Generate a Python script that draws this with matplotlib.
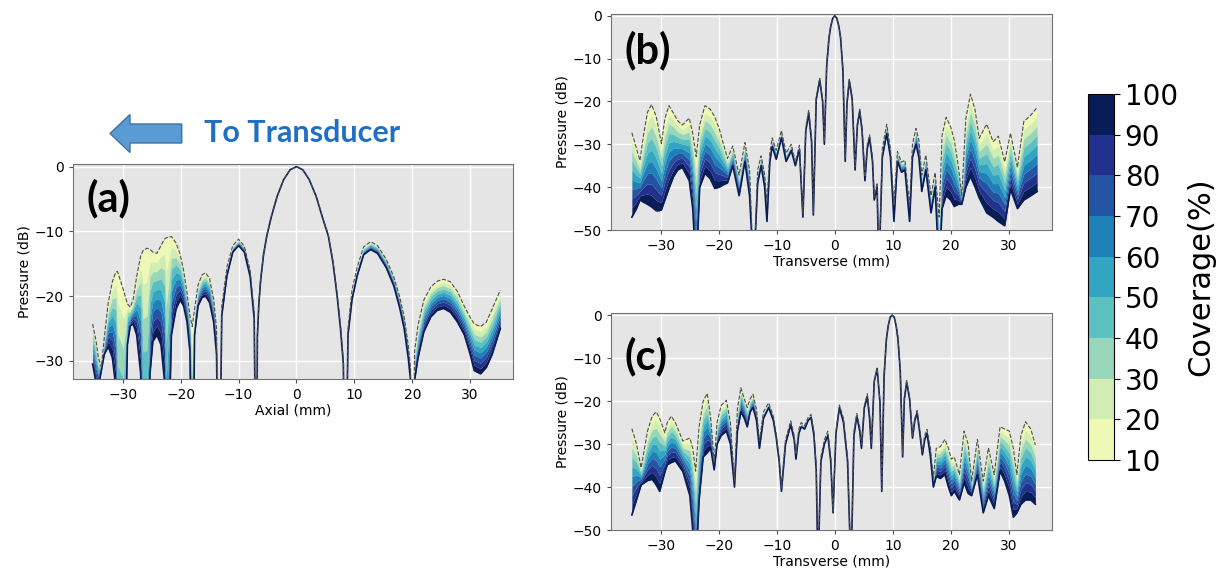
import numpy as np
import matplotlib
matplotlib.use("Agg")
import matplotlib.pyplot as plt
from matplotlib.colors import ListedColormap, BoundaryNorm
from matplotlib.cm import ScalarMappable
from matplotlib.patches import FancyArrow

# coverage levels of the colour scale
coverage_levels = [10, 20, 30, 40, 50, 60, 70, 80, 90, 100]

# (a) axial profile: 10 % envelope (top) and 100 % curve (low), in dB
a_x = [-35.2, -34.6, -34.2, -33.7, -33.2, -32.5, -31.8, -31.2, -30.9, -29.9,
       -29.2, -28.7, -28.2, -27.6, -26.9, -26.5, -25.8, -25.3, -24.8, -24.1,
       -23.4, -22.8, -22.5, -21.6, -20.8, -20.1, -19.5, -18.9, -18.4, -18.0,
       -17.6, -17.0, -16.3, -15.7, -15.0, -14.3, -13.8, -13.4, -12.9, -12.0,
       -11.0, -10.0, -9.0, -8.0, -7.3, -6.9, -6.75, -6.5, -6.2, -5.7,
       -5.1, -4.3, -3.3, -2.2, -1.1, 0.0, 1.1, 2.2, 3.4, 4.5,
       5.5, 6.3, 7.0, 7.6, 8.1, 8.4, 8.9, 9.6, 10.5, 11.6,
       12.8, 14.0, 15.5, 16.8, 17.8, 18.6, 19.3, 19.7, 20.0, 20.4,
       21.0, 22.0, 23.2, 24.3, 25.4, 26.6, 27.8, 29.0, 30.0, 30.7,
       31.8, 32.8, 33.8, 35.2]
a_top = [-24.3, -27.0, -29.5, -31.0, -26.5, -21.0, -17.8, -16.3, -16.2, -19.0,
         -21.2, -21.7, -20.5, -17.0, -13.8, -13.0, -12.6, -12.8, -13.2, -13.4,
         -12.2, -11.2, -11.0, -10.8, -11.8, -13.5, -16.0, -19.5, -23.0, -24.7,
         -22.0, -18.3, -16.7, -16.4, -17.3, -20.5, -25.0, -60.0, -21.5, -15.5,
         -12.2, -11.2, -12.3, -16.0, -22.5, -60.0, -26.0, -21.0, -17.5, -13.5,
         -10.5, -7.5, -4.4, -2.0, -0.5, 0.0, -0.5, -2.0, -4.5, -7.8,
         -10.5, -14.5, -19.5, -24.5, -30.0, -60.0, -25.0, -19.0, -15.5, -12.4,
         -11.6, -12.2, -14.3, -17.0, -20.0, -23.2, -27.5, -31.0, -60.0, -28.5,
         -24.5, -20.6, -18.6, -17.7, -17.4, -17.8, -19.3, -21.6, -23.3, -24.3,
         -24.7, -24.0, -22.0, -19.1]
a_low = [-30.5, -33.5, -34.0, -31.5, -29.0, -27.8, -29.5, -34.0, -60.0, -60.0,
         -27.5, -24.6, -24.3, -26.0, -32.0, -60.0, -60.0, -32.0, -27.0, -26.0,
         -27.5, -33.0, -60.0, -26.0, -22.0, -20.6, -21.5, -24.0, -28.5, -60.0,
         -26.0, -21.5, -20.2, -20.0, -21.0, -24.0, -29.0, -60.0, -23.0, -16.8,
         -13.2, -12.2, -13.2, -17.0, -23.5, -60.0, -26.3, -21.3, -17.7, -13.7,
         -10.6, -7.6, -4.5, -2.0, -0.5, 0.0, -0.5, -2.0, -4.6, -7.9,
         -10.7, -14.8, -19.8, -25.0, -30.5, -60.0, -26.0, -20.5, -16.8, -13.6,
         -12.8, -13.4, -15.6, -18.4, -21.7, -25.0, -29.5, -33.0, -60.0, -33.0,
         -29.5, -25.5, -23.2, -22.2, -21.9, -22.5, -24.0, -26.0, -29.0, -31.5,
         -32.0, -31.0, -29.0, -25.0]

# (b) transverse profile
b_x = [-35.0, -34.2, -33.6, -33.0, -32.3, -31.6, -30.8, -30.3, -29.9, -29.3,
       -28.6, -27.8, -27.1, -26.3, -25.1, -24.5, -23.9, -23.3, -22.4, -21.5,
       -20.7, -19.9, -19.3, -18.5, -17.6, -16.5, -15.5, -14.7, -14.0, -13.3,
       -12.7, -12.1, -11.7, -11.2, -10.8, -10.1, -9.2, -8.4, -7.5, -6.8,
       -6.1, -5.5, -5.0, -4.5, -4.0, -3.7, -3.2, -2.6, -2.1, -1.8,
       -1.4, -1.0, -0.7, -0.35, 0.0, 0.35, 0.7, 1.0, 1.4, 1.8,
       2.1, 2.5, 3.0, 3.5, 3.9, 4.3, 4.7, 5.2, 5.6, 6.0,
       6.5, 6.8, 7.3, 7.6, 8.2, 8.95, 9.6, 10.2, 10.8, 11.5,
       12.1, 12.9, 13.4, 14.0, 14.5, 15.0, 15.7, 16.6, 17.3, 18.0,
       18.5, 19.2, 20.0, 20.6, 21.3, 21.9, 22.6, 23.4, 24.2, 24.9,
       26.2, 27.3, 28.2, 29.3, 30.3, 31.5, 32.6, 33.8, 34.9]
b_top = [-27.3, -31.0, -33.8, -28.0, -22.5, -20.7, -23.5, -27.0, -29.8, -24.0,
         -21.0, -22.8, -24.5, -25.5, -23.9, -27.5, -32.9, -25.5, -21.0, -21.8,
         -23.6, -26.5, -29.5, -33.3, -30.4, -37.2, -29.6, -36.0, -60.0, -36.0,
         -32.7, -37.0, -43.4, -32.0, -28.5, -31.4, -26.8, -32.1, -30.0, -34.1,
         -30.2, -46.1, -26.0, -22.0, -28.5, -46.0, -19.0, -14.6, -19.5, -29.4,
         -11.5, -5.0, -2.4, -0.6, 0.0, -0.6, -2.4, -5.0, -12.5, -33.3,
         -20.0, -14.8, -19.0, -35.3, -25.0, -21.8, -26.0, -37.6, -30.0, -27.8,
         -33.0, -42.2, -39.0, -60.0, -31.0, -25.3, -31.0, -44.0, -31.7, -34.2,
         -33.7, -44.0, -30.0, -26.3, -29.0, -37.2, -32.5, -42.0, -36.6, -47.0,
         -28.0, -23.7, -26.0, -29.0, -35.0, -42.0, -24.0, -18.3, -22.0, -28.6,
         -25.3, -29.4, -28.1, -34.1, -27.4, -35.4, -24.7, -23.2, -21.4]
b_low = [-47.0, -45.0, -43.0, -43.5, -44.0, -44.6, -45.5, -45.5, -45.3, -43.0,
         -40.3, -37.5, -36.0, -35.4, -38.5, -45.0, -60.0, -40.0, -36.8, -38.0,
         -40.3, -40.0, -39.5, -39.0, -35.0, -42.0, -34.0, -42.0, -60.0, -39.0,
         -35.0, -40.0, -48.0, -34.0, -30.5, -33.5, -28.5, -34.0, -31.5, -35.0,
         -31.2, -47.0, -26.8, -22.8, -29.5, -46.5, -19.5, -15.0, -20.0, -30.0,
         -11.8, -5.2, -2.5, -0.6, 0.0, -0.6, -2.5, -5.2, -12.8, -34.0,
         -20.5, -15.2, -19.5, -36.0, -25.5, -22.3, -26.8, -38.5, -31.0, -28.5,
         -34.0, -43.0, -40.0, -60.0, -33.0, -27.5, -33.0, -48.0, -34.0, -36.5,
         -36.0, -48.0, -33.0, -30.0, -33.0, -41.0, -36.0, -46.0, -40.0, -60.0,
         -45.0, -42.0, -43.0, -44.5, -44.0, -44.0, -40.0, -37.5, -40.0, -42.5,
         -46.0, -47.0, -48.0, -49.0, -40.5, -45.0, -43.0, -42.0, -41.0]

# (c) transverse profile, steered focus
c_x = [-35.0, -34.2, -33.4, -32.3, -31.5, -30.8, -30.2, -29.3, -28.9, -28.2,
       -27.5, -26.2, -25.0, -24.5, -24.0, -23.4, -22.7, -22.0, -21.4, -20.8,
       -20.3, -19.6, -18.7, -18.0, -17.3, -16.8, -16.2, -15.6, -15.1, -14.6,
       -14.1, -13.5, -13.0, -12.3, -11.4, -10.6, -10.1, -9.6, -9.2, -8.5,
       -7.6, -7.0, -6.7, -6.2, -5.8, -5.2, -4.6, -4.1, -3.6, -3.2,
       -2.9, -2.4, -1.8, -1.2, -0.7, -0.3, 0.2, 0.8, 1.5, 2.2,
       2.8, 3.3, 3.8, 4.3, 4.6, 5.1, 5.6, 6.0, 6.3, 6.8,
       7.3, 7.8, 8.1, 8.5, 8.9, 9.2, 9.55, 9.9, 10.25, 10.6,
       10.9, 11.3, 11.7, 12.0, 12.4, 12.9, 13.4, 13.8, 14.2, 14.6,
       15.1, 15.5, 15.9, 16.5, 17.0, 17.5, 18.2, 19.0, 19.6, 20.1,
       20.6, 21.5, 22.3, 23.0, 23.6, 24.6, 25.6, 26.5, 27.5, 28.5,
       29.3, 30.1, 30.8, 31.4, 32.1, 32.9, 33.8, 34.6]
c_top = [-26.4, -30.0, -35.5, -27.0, -23.5, -22.5, -24.0, -27.4, -25.0, -23.5,
         -25.0, -29.3, -28.6, -31.0, -36.3, -26.0, -20.0, -18.2, -24.0, -34.0,
         -25.0, -21.0, -19.8, -25.0, -38.6, -22.0, -16.9, -19.5, -21.5, -19.5,
         -18.4, -22.0, -29.3, -22.5, -20.4, -23.5, -27.8, -33.0, -40.2, -29.0,
         -24.6, -28.0, -32.4, -26.5, -25.0, -25.7, -23.8, -23.1, -27.0, -35.0,
         -60.0, -33.0, -29.0, -27.0, -33.0, -45.6, -27.0, -20.9, -24.0, -33.0,
         -60.0, -27.0, -22.9, -26.0, -30.1, -21.0, -18.3, -23.0, -30.1, -15.5,
         -12.4, -20.0, -40.6, -14.0, -5.5, -2.5, -0.5, 0.0, -0.5, -2.5,
         -5.5, -13.0, -32.4, -19.0, -15.2, -19.0, -28.1, -24.0, -22.2, -26.0,
         -31.6, -28.0, -26.6, -31.0, -37.9, -31.0, -30.6, -28.9, -31.0, -33.5,
         -33.0, -37.1, -27.0, -30.0, -38.6, -28.9, -38.6, -30.9, -37.1, -26.0,
         -26.5, -27.0, -31.0, -37.1, -28.0, -24.8, -26.5, -30.2]
c_low = [-46.5, -43.0, -39.5, -38.5, -38.2, -39.5, -41.0, -36.5, -34.8, -34.3,
         -33.9, -36.4, -42.0, -50.0, -60.0, -43.0, -33.0, -32.0, -31.0, -36.0,
         -30.0, -28.0, -27.0, -30.0, -40.0, -27.0, -22.5, -24.0, -26.0, -22.5,
         -21.5, -24.5, -31.0, -24.0, -21.5, -24.5, -28.5, -34.0, -41.0, -30.0,
         -25.5, -29.0, -33.5, -27.5, -26.0, -26.5, -24.5, -23.8, -28.0, -36.0,
         -60.0, -34.0, -30.0, -28.0, -34.0, -46.0, -27.5, -21.5, -25.0, -34.0,
         -60.0, -28.0, -23.5, -27.0, -31.0, -21.5, -19.0, -24.0, -31.0, -15.5,
         -12.4, -20.5, -41.0, -14.3, -5.6, -2.6, -0.5, 0.0, -0.5, -2.6,
         -5.6, -13.3, -33.0, -19.5, -15.6, -19.5, -28.6, -24.5, -22.8, -26.8,
         -32.5, -29.0, -27.5, -33.0, -40.0, -37.5, -38.0, -37.1, -40.0, -42.0,
         -41.0, -43.0, -39.0, -41.5, -42.0, -37.1, -46.0, -42.0, -45.0, -36.3,
         -38.6, -42.0, -47.0, -46.0, -44.0, -43.0, -43.0, -44.0]

x_ticks = [-30, -20, -10, 0, 10, 20, 30]

band_colors = plt.cm.YlGnBu(np.linspace(1 / 9, 1.0, 9))


def draw_panel(ax, x, top, low, ylim, yticks, label, label_y, xlabel):
    x = np.array(x)
    top = np.array(top)
    low = np.array(low)
    ax.set_facecolor('#e5e5e5')
    ax.grid(True, color='white', lw=1.0)
    ax.set_axisbelow(True)
    n = len(band_colors)
    for k in range(n):
        upper = top + (low - top) * k / n
        lower = top + (low - top) * (k + 1) / n
        ax.fill_between(x, lower, upper, color=band_colors[k], lw=0, zorder=2)
    ax.plot(x, low, color='#081d58', lw=1.2, zorder=3)
    ax.plot(x, top, '--', color='0.3', lw=0.8, zorder=4)
    ax.set_xlim(-38.6, 37.4)
    ax.set_ylim(*ylim)
    ax.set_xticks(x_ticks)
    ax.set_yticks(yticks)
    ax.tick_params(labelsize=10, length=3, color='0.3')
    for s in ax.spines.values():
        s.set_color('0.45')
    ax.set_ylabel('Pressure (dB)', fontsize=10, labelpad=2)
    ax.set_xlabel(xlabel, fontsize=10, labelpad=1)
    ax.text(0.03, label_y, label, transform=ax.transAxes, fontsize=30,
            fontweight='bold', family=['Lato', 'DejaVu Sans'], va='center',
            zorder=5)


fig = plt.figure(figsize=(12.2, 5.73), dpi=100)

ax_a = fig.add_axes([0.0598, 0.3386, 0.3607, 0.3752])
draw_panel(ax_a, a_x, a_top, a_low, (-32.8, 0.4), [0, -10, -20, -30], '(a)', 0.84, 'Axial (mm)')

ax_b = fig.add_axes([0.5008, 0.5986, 0.3612, 0.377])
draw_panel(ax_b, b_x, b_top, b_low, (-50, 0.4), [0, -10, -20, -30, -40, -50], '(b)', 0.83, 'Transverse (mm)')

ax_c = fig.add_axes([0.5008, 0.075, 0.3612, 0.378])
draw_panel(ax_c, c_x, c_top, c_low, (-50, 0.4), [0, -10, -20, -30, -40, -50], '(c)', 0.80, 'Transverse (mm)')

# colour bar
cax = fig.add_axes([0.892, 0.197, 0.0213, 0.639])
sm = ScalarMappable(norm=BoundaryNorm(coverage_levels, 9), cmap=ListedColormap(band_colors))
cb = fig.colorbar(sm, cax=cax, ticks=coverage_levels)
cb.ax.tick_params(labelsize=20, length=4)
cb.outline.set_linewidth(0.8)
cb.set_label('Coverage(%)', fontsize=22, labelpad=6)

# arrow and note above panel (a)
over = fig.add_axes([0, 0, 1, 1])
over.set_xlim(0, 1220)
over.set_ylim(573, 0)
over.axis('off')
over.add_patch(FancyArrow(181.7, 133.5, -71.7, 0, width=19, head_width=38,
                          head_length=20, length_includes_head=True,
                          facecolor='#5b9bd5', edgecolor='#41719c', lw=1))
over.text(204, 133.5, 'To Transducer', color='#1f6fc4', fontsize=22,
          fontweight='bold', family=['Lato', 'DejaVu Sans'],
          va='center', ha='left')

fig.savefig('out.png', dpi=100)
plt.close(fig)
